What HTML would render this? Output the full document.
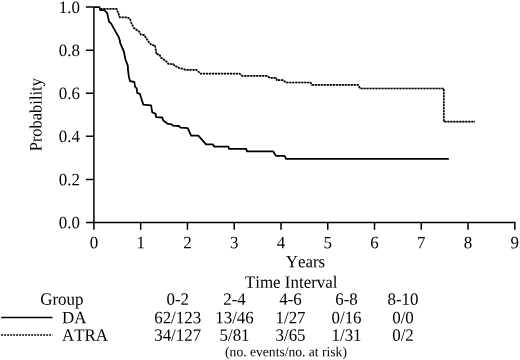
<!DOCTYPE html>
<html><head><meta charset="utf-8">
<style>
html,body{margin:0;padding:0;background:#fff;}
body{width:520px;height:360px;overflow:hidden;}
svg{display:block;will-change:transform;}
text{font-family:"Liberation Serif",serif;font-size:17.3px;fill:#000;font-kerning:none;}
</style></head><body>
<svg width="520" height="360" viewBox="0 0 520 360">
<rect width="520" height="360" fill="#fff"/>
<g stroke="#000" stroke-width="1.5" fill="none">
<path d="M93.9 7.1V222.5"/>
<path stroke-width="1.4" d="M85.9 222.5H515.5"/>
<path d="M85.9 179.42H93.9M85.9 136.34H93.9M85.9 93.26H93.9M85.9 50.18H93.9M85.9 7.1H93.9"/>
<path d="M93.9 222.5v7.3M140.67 222.5v7.3M187.44 222.5v7.3M234.21 222.5v7.3M280.98 222.5v7.3M327.75 222.5v7.3M374.52 222.5v7.3M421.29 222.5v7.3M468.06 222.5v7.3M514.83 222.5v7.3"/>
</g>
<path fill="none" stroke="#000" stroke-width="1.8" stroke-linejoin="round" d="M93.9 7.1H99.4L100.4 10.2H104.3L107.1 12.9 109.1 21.8 111 23.4 116.6 33.4 118.8 37.3 119.8 40.5 120.3 43.3 123.9 51.7 125.6 60 127.8 65.6 128 70 128.9 76.7 130 81.1 134.4 82 135 86.7 136.7 88.3 137.2 92.8 140 93.9 141.1 97.8 143.3 104.6 151.1 105.4 152.2 112.2 155.6 113.9 156.1 117.2 162.2 117.5 163.3 120.6 165.6 122.2 167.2 123.7 171.7 124.4 172.8 125.6 178.9 126 180.6 127.6 187.8 128.1 191.1 135.6H198.3L206.1 144.4H212.8L214.4 146.6H228.4L229 148.8H246.2L247 151.4H273.2L275.9 155.9H284.6L286 158.9H448.8"/>
<path fill="none" stroke="#000" stroke-opacity="0.25" stroke-width="1.4" d="M100.4 8.9H116.6L119.9 17.4H127L129.9 18.6 131 22.3 133.8 27.9 139.3 31.8 141 34.6 144.3 35.1 148.2 41.2 151.6 45 155 45.4 156.6 54.4H159.4L161.1 57.8 164.4 60 166.7 61.7 168.3 63.9 173.3 64.2 175 66.1 177.8 67 179.4 68.3 182.2 68.6 185.6 69.8H196.4L200.5 73.6H239.5L242.2 75.9H266.8L270.2 77.9H276.2L276.9 80.2H283L286.3 82.5H310.6L311.9 84.9H358.3L360 88.5H443.8V121.7H475"/>
<path fill="none" stroke="#000" stroke-width="1.7" stroke-dasharray="2.1 0.9" d="M100.4 8.9H116.6L119.9 17.4H127L129.9 18.6 131 22.3 133.8 27.9 139.3 31.8 141 34.6 144.3 35.1 148.2 41.2 151.6 45 155 45.4 156.6 54.4H159.4L161.1 57.8 164.4 60 166.7 61.7 168.3 63.9 173.3 64.2 175 66.1 177.8 67 179.4 68.3 182.2 68.6 185.6 69.8H196.4L200.5 73.6H239.5L242.2 75.9H266.8L270.2 77.9H276.2L276.9 80.2H283L286.3 82.5H310.6L311.9 84.9H358.3L360 88.5H443.8V121.7H475"/>
<path d="M1.2 317.6H52.5" stroke="#000" stroke-width="1.5"/>
<path d="M1.2 335.1H52.5" stroke="#000" stroke-width="1.5" stroke-dasharray="1.9 1.1"/>
<text transform="translate(79.9,228.3) rotate(0.05) scale(0.978,1)" text-anchor="end">0.0</text>
<text transform="translate(79.9,185.2) rotate(0.05) scale(0.978,1)" text-anchor="end">0.2</text>
<text transform="translate(79.9,142.1) rotate(0.05) scale(0.978,1)" text-anchor="end">0.4</text>
<text transform="translate(79.9,99.1) rotate(0.05) scale(0.978,1)" text-anchor="end">0.6</text>
<text transform="translate(79.9,56.0) rotate(0.05) scale(0.978,1)" text-anchor="end">0.8</text>
<text transform="translate(79.9,12.9) rotate(0.05) scale(0.978,1)" text-anchor="end">1.0</text>
<text transform="translate(93.9,248.3) rotate(0.05) scale(0.978,1)" text-anchor="middle">0</text>
<text transform="translate(140.67,248.3) rotate(0.05) scale(0.978,1)" text-anchor="middle">1</text>
<text transform="translate(187.44,248.3) rotate(0.05) scale(0.978,1)" text-anchor="middle">2</text>
<text transform="translate(234.21,248.3) rotate(0.05) scale(0.978,1)" text-anchor="middle">3</text>
<text transform="translate(280.98,248.3) rotate(0.05) scale(0.978,1)" text-anchor="middle">4</text>
<text transform="translate(327.75,248.3) rotate(0.05) scale(0.978,1)" text-anchor="middle">5</text>
<text transform="translate(374.52,248.3) rotate(0.05) scale(0.978,1)" text-anchor="middle">6</text>
<text transform="translate(421.29,248.3) rotate(0.05) scale(0.978,1)" text-anchor="middle">7</text>
<text transform="translate(468.06,248.3) rotate(0.05) scale(0.978,1)" text-anchor="middle">8</text>
<text transform="translate(514.83,248.3) rotate(0.05) scale(0.978,1)" text-anchor="middle">9</text>
<text transform="translate(305.4,267.3) rotate(0.05) scale(0.978,1)" text-anchor="middle">Years</text>
<text transform="translate(291.2,287.8) rotate(0.05) scale(0.978,1)" text-anchor="middle">Time Interval</text>
<text transform="translate(61.8,304.8) rotate(0.05) scale(0.978,1)" text-anchor="middle">Group</text>
<text transform="translate(177.7,304.8) rotate(0.05) scale(0.978,1)" text-anchor="middle">0-2</text>
<text transform="translate(234.5,304.8) rotate(0.05) scale(0.978,1)" text-anchor="middle">2-4</text>
<text transform="translate(290.5,304.8) rotate(0.05) scale(0.978,1)" text-anchor="middle">4-6</text>
<text transform="translate(346.5,304.8) rotate(0.05) scale(0.978,1)" text-anchor="middle">6-8</text>
<text transform="translate(403,304.8) rotate(0.05) scale(0.978,1)" text-anchor="middle">8-10</text>
<text transform="translate(177.7,323.3) rotate(0.05) scale(0.978,1)" text-anchor="middle">62/123</text>
<text transform="translate(234.5,323.3) rotate(0.05) scale(0.978,1)" text-anchor="middle">13/46</text>
<text transform="translate(290.5,323.3) rotate(0.05) scale(0.978,1)" text-anchor="middle">1/27</text>
<text transform="translate(346.5,323.3) rotate(0.05) scale(0.978,1)" text-anchor="middle">0/16</text>
<text transform="translate(403,323.3) rotate(0.05) scale(0.978,1)" text-anchor="middle">0/0</text>
<text transform="translate(177.7,340.8) rotate(0.05) scale(0.978,1)" text-anchor="middle">34/127</text>
<text transform="translate(234.5,340.8) rotate(0.05) scale(0.978,1)" text-anchor="middle">5/81</text>
<text transform="translate(290.5,340.8) rotate(0.05) scale(0.978,1)" text-anchor="middle">3/65</text>
<text transform="translate(346.5,340.8) rotate(0.05) scale(0.978,1)" text-anchor="middle">1/31</text>
<text transform="translate(403,340.8) rotate(0.05) scale(0.978,1)" text-anchor="middle">0/2</text>
<text transform="translate(286,356.3) rotate(0.05) scale(0.978,1)" text-anchor="middle" style="font-size:13.9px">(no. events/no. at risk)</text>
<text transform="translate(62,323.3) rotate(0.05) scale(0.978,1)" text-anchor="start">DA</text>
<text transform="translate(62,340.8) rotate(0.05) scale(0.978,1)" text-anchor="start">ATRA</text>
<text transform="translate(41.4,114.7) rotate(-90.05) scale(0.9516,1)" text-anchor="middle">Probability</text>
</svg>
</body></html>
